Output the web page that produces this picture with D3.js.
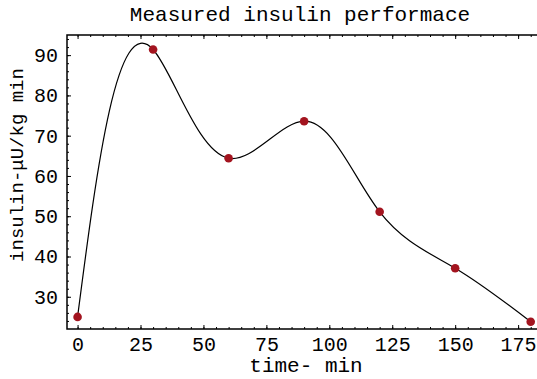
<!DOCTYPE html>
<html>
<head>
<meta charset="utf-8">
<script src="https://cdn.jsdelivr.net/npm/d3@7"></script>
<style>
  body { margin: 0; background: #fff; }
  svg { display: block; }
  .axis path { display: none; }
  .axis line { stroke: #000; }
  .axis text { font-family: "Liberation Mono", "Courier New", monospace; fill: #000; }
</style>
</head>
<body>
<div id="chart"></div>
<script>
var times = [0, 30, 60, 90, 120, 150, 180];
var insulin = [25, 91.4, 64.4, 73.6, 51.1, 37.1, 23.8];

var xTicks = [0, 25, 50, 75, 100, 125, 150, 175];
var yTicks = [30, 40, 50, 60, 70, 80, 90];

var width = 537,
  height = 379;
var plotLeft = 67, plotTop = 35, plotBottom = 329, plotRight = 537;

var x = d3.scaleLinear().domain([-4.2, 182.5]).range([plotLeft, plotRight]);
var y = d3.scaleLinear().domain([22, 95]).range([plotBottom, plotTop]);

// pixels per data unit, so the knots are chord lengths in data units
var kx = x(1) - x(0),
  ky = y(0) - y(1);

// parametric natural cubic spline, chord-length knots
function curveChordSpline(context) {
  var xs, ys;
  return {
    areaStart: function () {},
    areaEnd: function () {},
    lineStart: function () { xs = []; ys = []; },
    point: function (px, py) { xs.push(+px); ys.push(+py); },
    lineEnd: function () {
      var n = xs.length;
      if (!n) return;
      context.moveTo(xs[0], ys[0]);
      if (n < 3) {
        for (var k = 1; k < n; k++) context.lineTo(xs[k], ys[k]);
        return;
      }
      var h = [];
      for (var i = 0; i < n - 1; i++)
        h.push(Math.hypot((xs[i + 1] - xs[i]) / kx, (ys[i + 1] - ys[i]) / ky));
      function second(v) {
        var a = [], b = [], c = [], r = [];
        for (var i = 1; i < n - 1; i++) {
          a.push(h[i - 1]); b.push(2 * (h[i - 1] + h[i])); c.push(h[i]);
          r.push(6 * ((v[i + 1] - v[i]) / h[i] - (v[i] - v[i - 1]) / h[i - 1]));
        }
        var m = r.length;
        for (var j = 1; j < m; j++) {
          var w = a[j] / b[j - 1];
          b[j] -= w * c[j - 1];
          r[j] -= w * r[j - 1];
        }
        var M = new Array(m);
        M[m - 1] = r[m - 1] / b[m - 1];
        for (j = m - 2; j >= 0; j--) M[j] = (r[j] - c[j] * M[j + 1]) / b[j];
        return [0].concat(M, [0]);
      }
      var Mx = second(xs), My = second(ys);
      for (i = 0; i < n - 1; i++) {
        var hi = h[i];
        var dx0 = (xs[i + 1] - xs[i]) / hi - hi * (2 * Mx[i] + Mx[i + 1]) / 6;
        var dy0 = (ys[i + 1] - ys[i]) / hi - hi * (2 * My[i] + My[i + 1]) / 6;
        var dx1 = (xs[i + 1] - xs[i]) / hi + hi * (Mx[i] + 2 * Mx[i + 1]) / 6;
        var dy1 = (ys[i + 1] - ys[i]) / hi + hi * (My[i] + 2 * My[i + 1]) / 6;
        context.bezierCurveTo(
          xs[i] + hi * dx0 / 3, ys[i] + hi * dy0 / 3,
          xs[i + 1] - hi * dx1 / 3, ys[i + 1] - hi * dy1 / 3,
          xs[i + 1], ys[i + 1]
        );
      }
    }
  };
}

var svg = d3
  .select('#chart')
  .append('svg')
  .attr('width', width)
  .attr('height', height);

// bottom axis: labels + inward major ticks
svg
  .append('g')
  .attr('class', 'axis')
  .attr('transform', 'translate(0,' + plotBottom + ')')
  .call(d3.axisBottom(x).tickValues(xTicks).tickSizeInner(-4).tickSizeOuter(0).tickPadding(8))
  .selectAll('text')
  .style('font-size', '20px');

// bottom minor ticks
svg
  .append('g')
  .attr('class', 'axis')
  .attr('transform', 'translate(0,' + plotBottom + ')')
  .call(d3.axisBottom(x).tickValues(d3.range(0, 185, 5)).tickSize(-2).tickFormat(''));

// top ticks (no labels)
svg
  .append('g')
  .attr('class', 'axis')
  .attr('transform', 'translate(0,' + plotTop + ')')
  .call(d3.axisTop(x).tickValues(xTicks).tickSize(-4).tickFormat(''));
svg
  .append('g')
  .attr('class', 'axis')
  .attr('transform', 'translate(0,' + plotTop + ')')
  .call(d3.axisTop(x).tickValues(d3.range(0, 185, 5)).tickSize(-2).tickFormat(''));

// left axis
svg
  .append('g')
  .attr('class', 'axis')
  .attr('transform', 'translate(' + plotLeft + ',0)')
  .call(d3.axisLeft(y).tickValues(yTicks).tickSizeInner(-4).tickSizeOuter(0).tickPadding(9))
  .selectAll('text')
  .style('font-size', '20px');
svg
  .append('g')
  .attr('class', 'axis')
  .attr('transform', 'translate(' + plotLeft + ',0)')
  .call(d3.axisLeft(y).tickValues(d3.range(24, 95, 2)).tickSize(-2).tickFormat(''));

// frame (right side falls outside the picture)
svg
  .append('path')
  .attr('d', 'M' + plotRight + ',' + plotTop + 'H' + plotLeft + 'V' + plotBottom + 'H' + plotRight)
  .attr('fill', 'none')
  .attr('stroke', '#000')
  .attr('stroke-width', 1.5);

var pts = times.map(function (t, i) {
  return [t, insulin[i]];
});

var line = d3
  .line()
  .x(function (d) { return x(d[0]); })
  .y(function (d) { return y(d[1]); })
  .curve(curveChordSpline);

svg
  .append('path')
  .datum(pts)
  .attr('d', line)
  .attr('fill', 'none')
  .attr('stroke', '#000')
  .attr('stroke-width', 1.2);

svg
  .selectAll('.pt')
  .data(pts)
  .enter()
  .append('circle')
  .attr('class', 'pt')
  .attr('cx', function (d) { return x(d[0]); })
  .attr('cy', function (d) { return y(d[1]); })
  .attr('r', 4.3)
  .attr('fill', '#a3141f');

var font = '"Liberation Mono", "Courier New", monospace';

svg
  .append('text')
  .attr('x', 300)
  .attr('y', 21)
  .attr('text-anchor', 'middle')
  .style('font-family', font)
  .style('font-size', '21px')
  .text('Measured insulin performace');

svg
  .append('text')
  .attr('x', 306)
  .attr('y', 372)
  .attr('text-anchor', 'middle')
  .style('font-family', font)
  .style('font-size', '21px')
  .text('time- min');

svg
  .append('text')
  .attr('transform', 'translate(23,165) rotate(-90)')
  .attr('text-anchor', 'middle')
  .style('font-family', font)
  .style('font-size', '19px')
  .text('insulin-\u03bcU/kg min');
</script>
</body>
</html>
